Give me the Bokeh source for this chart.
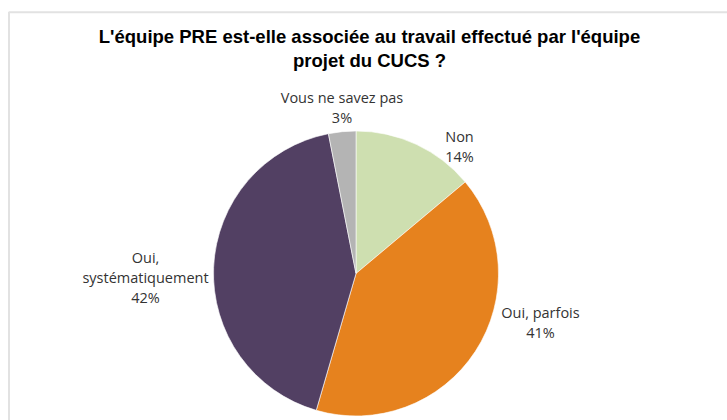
import math
from bokeh.plotting import figure
from bokeh.models import ColumnDataSource, Range1d, Label, BoxAnnotation
from bokeh.core.properties import value
from bokeh.embed import file_html
from bokeh.resources import INLINE

# ---- data ----
categories = ["Non", "Oui, parfois", "Oui,\nsystématiquement", "Vous ne savez pas"]
values = [13.9, 40.6, 42.4, 3.1]
colors = ["#CEDFB0", "#E6821E", "#524063", "#B4B4B4"]
title_lines = ["L'équipe PRE est-elle associée au travail effectué par l'équipe",
               "projet du CUCS ?"]

# ---- layout (pixels; 1 data unit = 1 px) ----
W, H = 727, 420
cx, cy, r = 355.5, 147.0, 142.5
label_anchor = [(459, 284), (540, 108), (145, 163), (341.5, 323)]
line_step = 20

p = figure(width=W, height=H, output_backend="svg", toolbar_location=None,
           x_range=Range1d(0, W), y_range=Range1d(0, H),
           x_axis_type=None, y_axis_type=None, min_border=0)
p.grid.visible = False
p.outline_line_color = None
p.background_fill_color = "white"
p.border_fill_color = "white"

total = sum(values)
starts, ends = [], []
cum = 0.0
for v in values:
    starts.append(math.pi / 2 - 2 * math.pi * cum / total)
    cum += v
    ends.append(math.pi / 2 - 2 * math.pi * cum / total)

src = ColumnDataSource(dict(start=starts, end=ends, color=colors, cat=categories, val=values))
p.wedge(x=cx, y=cy, radius=r, start_angle="start", end_angle="end", direction="clock",
        fill_color="color", line_color="white", line_width=0.6, source=src)

# labels
lx, ly, lt = [], [], []
for cat, v, (ax, ay) in zip(categories, values, label_anchor):
    lines = cat.split("\n") + [f"{round(v / total * 100)}%"]
    for i, t in enumerate(lines):
        lx.append(ax)
        ly.append(ay - i * line_step)
        lt.append(t)
p.text(x=lx, y=ly, text=lt, text_align="center", text_baseline="alphabetic",
       text_font=value("Open Sans"), text_font_size="14.5px", text_color="#333333")

# title
for i, t in enumerate(title_lines):
    p.add_layout(Label(x=369, y=384 - i * 24, text=t, text_align="center",
                       text_baseline="alphabetic", text_font="Liberation Sans",
                       text_font_style="bold", text_font_size="18.5px", text_color="#000000"))

# chart-area border (left and top visible)
p.add_layout(BoxAnnotation(left=8.5, top=408.25, right=W + 10, bottom=-10,
                           fill_alpha=0, line_color="#A0A0A0", line_width=2))

open("out.html", "w").write(file_html(p, INLINE))
